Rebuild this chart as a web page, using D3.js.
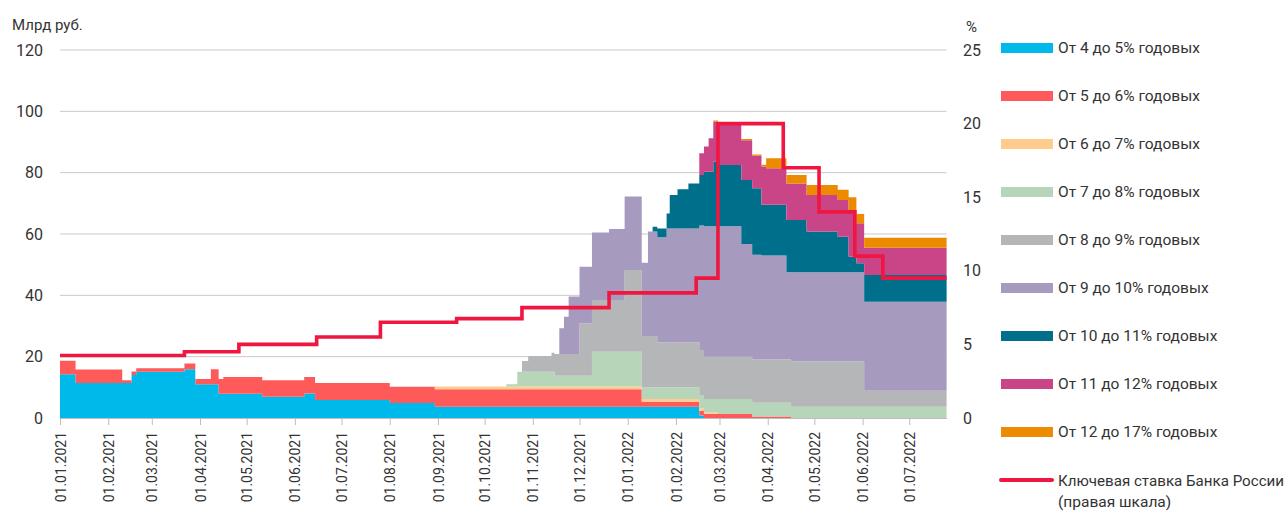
<!DOCTYPE html>
<html>
<head>
<meta charset="utf-8">
<script src="https://cdn.jsdelivr.net/npm/d3@7"></script>
<style>
  body { margin: 0; background: #fff; }
  text { font-family: Roboto, "Noto Sans", sans-serif; fill: #333; }
</style>
</head>
<body>
<div id="chart"></div>
<script>
var W = 1288, H = 512;

// dates of stack breakpoints (values hold until next date)
var dates = [
  "2021-01-01", "2021-01-11", "2021-02-10", "2021-02-16", "2021-02-19", "2021-03-22", "2021-03-29",
  "2021-04-08", "2021-04-13", "2021-04-16", "2021-05-11", "2021-06-07", "2021-06-14", "2021-08-01",
  "2021-08-30", "2021-10-15", "2021-10-22", "2021-10-25", "2021-10-29", "2021-11-13", "2021-11-15",
  "2021-11-18", "2021-11-21", "2021-11-24", "2021-12-01", "2021-12-09", "2021-12-20", "2021-12-30",
  "2022-01-10", "2022-01-14", "2022-01-17", "2022-01-20", "2022-01-26", "2022-01-28", "2022-02-02",
  "2022-02-09", "2022-02-16", "2022-02-19", "2022-02-22", "2022-02-25", "2022-02-28", "2022-03-15",
  "2022-03-22", "2022-03-28", "2022-03-31", "2022-04-13", "2022-04-16", "2022-04-26", "2022-05-16",
  "2022-05-23", "2022-05-28", "2022-06-02", "2022-07-25"
];

// млрд руб. by rate bucket
var s4_5 = [14.3, 11.4, 11.4, 14.0, 15.1, 15.9, 11.0, 11.0, 7.9, 7.9, 6.9, 8.0, 5.9, 4.9,
  3.7, 3.7, 3.7, 3.7, 3.7, 3.7, 3.7, 3.7, 3.7, 3.7, 3.7, 3.7, 3.7, 3.7, 3.7, 3.7, 3.7, 3.7, 3.7, 3.7, 3.7, 3.7,
  0.8, 0, 0, 0, 0, 0, 0, 0, 0, 0, 0, 0, 0, 0, 0, 0, 0];
var s5_6 = [4.4, 4.4, 0.9, 1.2, 1.1, 1.9, 1.7, 4.9, 4.8, 5.5, 5.4, 5.4, 5.5, 5.3,
  5.7, 5.7, 5.7, 5.7, 5.7, 5.7, 5.7, 5.7, 5.7, 5.7, 5.7, 5.7, 5.7, 5.7,
  1.6, 1.6, 1.6, 1.6, 1.6, 1.6, 1.6, 1.6,
  1.5, 1.4, 1.4, 1.4, 1.3, 1.3, 0.5, 0.5, 0.5, 0.5, 0, 0, 0, 0, 0, 0, 0];
var s6_7 = [0, 0, 0, 0, 0, 0, 0, 0, 0, 0, 0, 0, 0, 0,
  0.85, 0.85, 0.85, 0.85, 0.85, 0.85, 0.85, 0.85, 0.85, 0.85, 0.85, 0.85, 0.85, 0.85,
  0.9, 0.9, 0.9, 0.9, 0.9, 0.9, 0.9, 0.9,
  0.9, 0.4, 0.4, 0.4, 0, 0, 0, 0, 0, 0, 0, 0, 0, 0, 0, 0, 0];
var s7_8 = [0, 0, 0, 0, 0, 0, 0, 0, 0, 0, 0, 0, 0, 0, 0,
  0.75, 4.85, 4.85, 4.85, 4.85, 3.55, 3.55, 3.55, 3.55, 3.55, 11.35, 11.35, 11.35,
  3.8, 3.8, 3.8, 3.8, 3.8, 3.8, 3.8, 3.8,
  4.3, 4.4, 4.4, 4.4, 4.9, 4.9, 4.5, 4.5, 4.5, 4.5, 3.7, 3.7, 3.7, 3.7, 3.7, 3.7, 3.7];
var s8_9 = [0, 0, 0, 0, 0, 0, 0, 0, 0, 0, 0, 0, 0, 0, 0, 0, 0,
  3.5, 5.1, 6.2, 7.1, 7.1, 7.1, 7.1, 17.1, 16.9, 16.9, 26.7,
  16.7, 16.7, 16.7, 14.7, 14.7, 14.7, 14.7, 14.7,
  14.7, 13.8, 13.8, 13.8, 13.8, 13.8, 14.1, 14.1, 14.1, 14.1, 14.7, 14.7, 14.7, 14.7, 14.7, 5.2, 5.2];
var s9_10 = [0, 0, 0, 0, 0, 0, 0, 0, 0, 0, 0, 0, 0, 0, 0, 0, 0, 0, 0, 0, 0,
  8.4, 12.1, 18.7, 18.4, 22.0, 23.1, 23.9,
  23.9, 34.1, 34.1, 34.2, 37.1, 37.1, 37.1, 37.1,
  40.6, 42.5, 42.5, 42.5, 42.5, 36.7, 34.1, 33.9, 33.9, 28.4, 29.1, 29.1, 29.1, 29.1, 29.1, 29.0, 29.0];
var s10_11 = [0, 0, 0, 0, 0, 0, 0, 0, 0, 0, 0, 0, 0, 0, 0, 0, 0, 0, 0, 0, 0, 0, 0, 0, 0, 0, 0, 0, 0, 0,
  1.6, 2.9, 4.9, 10.9, 12.8, 14.7,
  16.4, 17.8, 17.8, 21.1, 20.0, 20.9, 21.7, 16.5, 16.5, 17.1, 17.1, 13.3, 11.6, 5.1, 3.0, 8.7, 8.7];
var s11_12 = [0, 0, 0, 0, 0, 0, 0, 0, 0, 0, 0, 0, 0, 0, 0, 0, 0, 0, 0, 0, 0, 0, 0, 0, 0, 0, 0, 0, 0, 0,
  0, 0, 0, 0, 0, 0,
  7.1, 8.2, 10.9, 13.0, 13.4, 13.0, 10.6, 12.5, 11.9, 11.9, 11.9, 11.9, 12.0, 15.2, 13.0, 8.9, 8.9];
var s12_17 = [0, 0, 0, 0, 0, 0, 0, 0, 0, 0, 0, 0, 0, 0, 0, 0, 0, 0, 0, 0, 0, 0, 0, 0, 0, 0, 0, 0, 0, 0,
  0, 0, 0, 0, 0, 0, 0, 0, 0,
  0.4, 0.3, 0.4, 0.4, 0.6, 3.3, 2.7, 2.7, 3.3, 3.3, 4.2, 3.0, 3.3, 3.3];

// key rate, %
var rateDates = ["2021-01-01", "2021-03-22", "2021-04-26", "2021-06-15", "2021-07-26", "2021-09-13",
  "2021-10-25", "2021-12-20", "2022-02-14", "2022-02-28", "2022-04-11", "2022-05-04", "2022-05-27",
  "2022-06-14", "2022-07-25"];
var rateValues = [4.25, 4.5, 5.0, 5.5, 6.5, 6.75, 7.5, 8.5, 9.5, 20, 17, 14, 11, 9.5, 9.5];

var seriesNames = ["От 4 до 5% годовых", "От 5 до 6% годовых", "От 6 до 7% годовых", "От 7 до 8% годовых",
  "От 8 до 9% годовых", "От 9 до 10% годовых", "От 10 до 11% годовых", "От 11 до 12% годовых", "От 12 до 17% годовых"];
var seriesData = [s4_5, s5_6, s6_7, s7_8, s8_9, s9_10, s10_11, s11_12, s12_17];
var colors = ["#00B9EB", "#FF5A5A", "#FFCC8C", "#B7D5B8", "#B5B6B8", "#A69BBE", "#006F8C", "#CA4588", "#EC8A00"];
var rateColor = "#EF1640";
var rateLabel = ["Ключевая ставка Банка России", "(правая шкала)"];

var leftTicks = [0, 20, 40, 60, 80, 100, 120];
var rightTicks = [0, 5, 10, 15, 20, 25];

var parse = d3.timeParse("%Y-%m-%d");
var fmt = d3.timeFormat("%d.%m.%Y");

var rows = dates.map(function (d, i) {
  var r = { date: parse(d) };
  seriesNames.forEach(function (k, j) { r[k] = seriesData[j][i]; });
  return r;
});
var rateRows = rateDates.map(function (d, i) { return { date: parse(d), v: rateValues[i] }; });

var plotL = 60, plotR = 946.6, plotT = 50, plotB = 418;

var x = d3.scaleTime().domain([parse("2021-01-01"), parse("2022-07-25")]).range([plotL, plotR]);
var y = d3.scaleLinear().domain([0, 120]).range([plotB, plotT]);
var y2 = d3.scaleLinear().domain([0, 25]).range([plotB, plotT]);

var svg = d3.select("#chart").append("svg").attr("width", W).attr("height", H);

// gridlines
svg.append("g").selectAll("line")
  .data(leftTicks.slice(1))
  .enter().append("line")
  .attr("x1", plotL).attr("x2", plotR)
  .attr("y1", function (d) { return y(d); })
  .attr("y2", function (d) { return y(d); })
  .attr("stroke", "#C9C9C9").attr("stroke-width", 1);

// stacked areas
var stack = d3.stack().keys(seriesNames);
var layers = stack(rows);

var area = d3.area()
  .curve(d3.curveStepAfter)
  .x(function (d) { return x(d.data.date); })
  .y0(function (d) { return y(d[0]); })
  .y1(function (d) { return y(d[1]); });

svg.append("g").selectAll("path")
  .data(layers)
  .enter().append("path")
  .attr("d", area)
  .attr("fill", function (d, i) { return colors[i]; });

// x axis
var xAxis = d3.axisBottom(x)
  .tickValues(d3.timeMonth.range(parse("2021-01-01"), parse("2022-07-02")))
  .tickFormat(fmt)
  .tickSize(7)
  .tickSizeOuter(0);

var gx = svg.append("g").attr("transform", "translate(0," + plotB + ")").call(xAxis);
gx.select(".domain").attr("stroke", "#BDBDBD").attr("stroke-width", 1.2);
gx.selectAll(".tick line").attr("stroke", "#BDBDBD");
gx.selectAll(".tick text")
  .attr("transform", "rotate(-90)")
  .attr("x", -14).attr("y", 0).attr("dy", "0.36em")
  .attr("text-anchor", "end")
  .style("font-size", "14px")
  .style("font-family", "Roboto, sans-serif")
  .attr("fill", "#333");

// left axis
svg.append("g").selectAll("text")
  .data(leftTicks)
  .enter().append("text")
  .attr("x", 43)
  .attr("y", function (d) { return y(d); })
  .attr("dy", "0.35em")
  .attr("text-anchor", "end")
  .style("font-size", "16px")
  .text(function (d) { return d; });

svg.append("text").attr("x", 12).attr("y", 30).style("font-size", "15px").text("Млрд руб.");

// right axis
svg.append("g").selectAll("text")
  .data(rightTicks)
  .enter().append("text")
  .attr("x", 963)
  .attr("y", function (d) { return y2(d); })
  .attr("dy", "0.35em")
  .style("font-size", "16px")
  .text(function (d) { return d; });

svg.append("text").attr("x", 966).attr("y", 32).style("font-size", "15px").text("%");

// key rate line
var line = d3.line()
  .curve(d3.curveStepAfter)
  .x(function (d) { return x(d.date); })
  .y(function (d) { return y2(d.v); });

svg.append("path")
  .datum(rateRows)
  .attr("d", line)
  .attr("fill", "none")
  .attr("stroke", rateColor)
  .attr("stroke-width", 3.6)
  .attr("stroke-linejoin", "miter");

// legend
var lg = svg.append("g");
seriesNames.forEach(function (name, i) {
  var cy = 48 + i * 48;
  lg.append("rect").attr("x", 1001).attr("y", cy - 5).attr("width", 52).attr("height", 10).attr("fill", colors[i]);
  lg.append("text").attr("x", 1058).attr("y", cy).attr("dy", "0.35em").style("font-size", "15.5px").text(name);
});
lg.append("line").attr("x1", 1001).attr("x2", 1052).attr("y1", 480).attr("y2", 480)
  .attr("stroke", rateColor).attr("stroke-width", 4).attr("stroke-linecap", "round");
lg.append("text").attr("x", 1058).attr("y", 481).attr("dy", "0.35em").style("font-size", "15px")
  .attr("textLength", 226).attr("lengthAdjust", "spacingAndGlyphs").text(rateLabel[0]);
lg.append("text").attr("x", 1058).attr("y", 502).attr("dy", "0.35em").style("font-size", "15.5px").text(rateLabel[1]);
</script>
</body>
</html>
